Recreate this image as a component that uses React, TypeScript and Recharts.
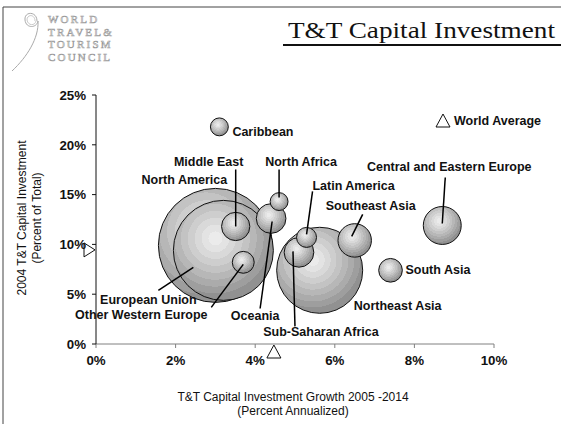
import React from 'react';
import { ScatterChart, Scatter, XAxis, YAxis, ZAxis, LabelList, ReferenceDot } from 'recharts';

// regions in drawing order (big bubbles first)
const regions = [
  'North America',
  'European Union',
  'Middle East',
  'Other Western Europe',
  'Oceania',
  'North Africa',
  'Northeast Asia',
  'Sub-Saharan Africa',
  'Latin America',
  'Southeast Asia',
  'South Asia',
  'Central and Eastern Europe',
  'Caribbean',
];
// T&T capital investment growth 2005-2014, % annualized
const growth = [3.0, 3.2, 3.51, 3.7, 4.4, 4.6, 5.62, 5.1, 5.29, 6.5, 7.4, 8.7, 3.1];
// 2004 T&T capital investment, % of total
const share = [9.9, 9.4, 11.8, 8.2, 12.6, 14.3, 7.4, 9.2, 10.7, 10.4, 7.4, 11.9, 21.8];
// bubble size (relative level of capital investment)
const investment = [325, 250, 20, 12, 22, 8, 185, 22, 10, 28, 14, 36, 8];

const xTicks = [0, 2, 4, 6, 8, 10];
const yTicks = [0, 5, 10, 15, 20, 25];
const worldAvgGrowth = 4.47;
const worldAvgShare = 9.45;

const bubbles = regions.map((name, i) => ({ name, x: growth[i], y: share[i], z: investment[i] }));

const W = 561;
const H = 424;
const FONT = '"Liberation Sans", Arial, sans-serif';
const SERIF = '"Liberation Serif", "DejaVu Serif", serif';

// label placement in pixels relative to the bubble centre; line = [x1, y1, x2, y2]
type Place = { tx: number; ty: number; anchor?: 'start' | 'middle' | 'end'; line?: number[] };
const placement: Record<string, Place> = {
  'North America': { tx: -31, ty: -65 },
  'European Union': { tx: -75, ty: 50, line: [-65, 40, -30, 17] },
  'Middle East': { tx: -27, ty: -64, line: [0, -57, 0, 0] },
  'Other Western Europe': { tx: -102, ty: 53, line: [-32, 45, 0, 2] },
  Oceania: { tx: -16, ty: 97, line: [-11, 90, 1, 3] },
  'North Africa': { tx: 22, ty: -40, line: [0, -32, 0, -4] },
  'Northeast Asia': { tx: 78, ty: 36 },
  'Sub-Saharan Africa': { tx: 22, ty: 80, line: [-4, 74, -6, -1] },
  'Latin America': { tx: 47, ty: -51, line: [6, -46, 0, -3] },
  'Southeast Asia': { tx: 16, ty: -34, line: [8, -26, -3, -4] },
  'South Asia': { tx: 15, ty: 0, anchor: 'start' },
  'Central and Eastern Europe': { tx: 7, ty: -58, line: [3, -48, 0, -2] },
  Caribbean: { tx: 13, ty: 5, anchor: 'start' },
};

const Bubble = (props: any) => {
  const { cx, cy, width } = props;
  const r = Math.max(width / 2, 1);
  return <circle cx={cx} cy={cy} r={r} fill="url(#bubbleGrad)" stroke="#111" strokeWidth={1} />;
};

const BubbleLabel = (props: any) => {
  const vb = props.viewBox && props.viewBox.width !== undefined ? props.viewBox : props;
  const cx = Number(vb.x) + Number(vb.width) / 2;
  const cy = Number(vb.y) + Number(vb.height) / 2;
  const p = placement[props.value];
  if (!p) return null;
  return (
    <g>
      {p.line && (
        <line x1={cx + p.line[0]} y1={cy + p.line[1]} x2={cx + p.line[2]} y2={cy + p.line[3]} stroke="#000" strokeWidth={1.5} />
      )}
      <text
        x={cx + p.tx}
        y={cy + p.ty}
        textAnchor={p.anchor || 'middle'}
        dominantBaseline="central"
        fontFamily={FONT}
        fontWeight="bold"
        fontSize={12.5}
        fill="#111"
      >
        {props.value}
      </text>
    </g>
  );
};

const UpTriangle = (props: any) => {
  const { cx, cy } = props;
  return <polygon points={`${cx},${cy + 1} ${cx - 7},${cy + 14} ${cx + 7},${cy + 14}`} fill="#fff" stroke="#111" strokeWidth={1} />;
};

const RightTriangle = (props: any) => {
  const { cx, cy } = props;
  return <polygon points={`${cx - 1},${cy} ${cx - 12},${cy - 7} ${cx - 12},${cy + 7}`} fill="#fff" stroke="#111" strokeWidth={1} />;
};

const bands = ['#ebebeb', '#e3e3e3', '#d9d9d9', '#cecece', '#c3c3c3', '#b7b7b7', '#ababab', '#9e9e9e', '#919191'];

function Backdrop() {
  return (
    <svg width={W} height={H} style={{ position: 'absolute', left: 0, top: 0 }}>
      <defs>
        <radialGradient id="bubbleGrad" cx="0.42" cy="0.38" r="0.62" fx="0.42" fy="0.38">
          {bands.map((c, i) => (
            <React.Fragment key={i}>
              <stop offset={i / bands.length} stopColor={c} />
              <stop offset={(i + 1) / bands.length} stopColor={c} />
            </React.Fragment>
          ))}
        </radialGradient>
      </defs>
      <rect x={0} y={0} width={W} height={H} fill="#fff" />
      <line x1={3} y1={7} x2={W} y2={7} stroke="#444" strokeWidth={1} />
      <line x1={3} y1={7} x2={3} y2={H} stroke="#444" strokeWidth={1} />

      {/* logo */}
      <path d="M37 21 C37 11 24 11 25 20 C26 29 37 28 38 21 C39 38 27 57 12 71" fill="none" stroke="#aaa" strokeWidth={1} />
      <path d="M35 21 C35 14 27 14 27 20 C28 26 35 26 36 21" fill="none" stroke="#bbb" strokeWidth={0.8} />
      <g fontFamily={SERIF} fontSize={11} fill="#fff" stroke="#9a9a9a" strokeWidth={0.6} letterSpacing={2.2}>
        <text x={48} y={23}>WORLD</text>
        <text x={48} y={35.5}>TRAVEL&amp;</text>
        <text x={48} y={48}>TOURISM</text>
        <text x={48} y={60.5}>COUNCIL</text>
      </g>

      {/* title */}
      <text x={288} y={38} fontFamily={SERIF} fontSize={23} fill="#111" textLength={267} lengthAdjust="spacingAndGlyphs">
        T&amp;T Capital Investment
      </text>
      <line x1={283} y1={45} x2={W} y2={45} stroke="#111" strokeWidth={2} />

      {/* legend */}
      <polygon points="443,114 436,127 450,127" fill="#fff" stroke="#111" strokeWidth={1} />
      <text x={454} y={121} dominantBaseline="central" fontFamily={FONT} fontWeight="bold" fontSize={12.5} fill="#111">
        World Average
      </text>

      {/* axis titles */}
      <g fontFamily={FONT} fontSize={12} fill="#111" textAnchor="middle">
        <text x={293} y={401}>T&amp;T Capital Investment Growth 2005 -2014</text>
        <text x={293} y={415}>(Percent Annualized)</text>
        <text transform="translate(26,218) rotate(-90)">2004 T&amp;T Capital Investment</text>
        <text transform="translate(41,218) rotate(-90)">(Percent of Total)</text>
      </g>
    </svg>
  );
}

export default function App() {
  return (
    <div style={{ position: 'absolute', left: 0, top: 0, width: W, height: H, background: '#fff' }}>
      <Backdrop />
      <div style={{ position: 'absolute', left: 0, top: 0 }}>
        <ScatterChart width={W} height={H} margin={{ top: 95, right: 67, bottom: 50, left: 36 }}>
          <XAxis
            type="number"
            dataKey="x"
            domain={[0, 10]}
            ticks={xTicks}
            tickFormatter={(v) => `${v}%`}
            height={30}
            stroke="#808080"
            tickSize={4}
            tickMargin={8}
            tick={{ fill: '#111', fontSize: 13.3, fontWeight: 'bold', fontFamily: FONT }}
          />
          <YAxis
            type="number"
            dataKey="y"
            domain={[0, 25]}
            ticks={yTicks}
            tickFormatter={(v) => `${v}%`}
            width={60}
            stroke="#111"
            tickSize={4}
            tickMargin={6}
            tick={{ fill: '#111', fontSize: 13.3, fontWeight: 'bold', fontFamily: FONT }}
          />
          <ZAxis type="number" dataKey="z" domain={[0, 325]} range={[0, Math.PI * 57 * 57]} />
          <Scatter data={bubbles} shape={<Bubble />} isAnimationActive={false}>
            <LabelList dataKey="name" content={<BubbleLabel />} />
          </Scatter>
          <ReferenceDot x={worldAvgGrowth} y={0} r={6} shape={<UpTriangle />} ifOverflow="visible" />
          <ReferenceDot x={0} y={worldAvgShare} r={6} shape={<RightTriangle />} ifOverflow="visible" />
        </ScatterChart>
      </div>
    </div>
  );
}
